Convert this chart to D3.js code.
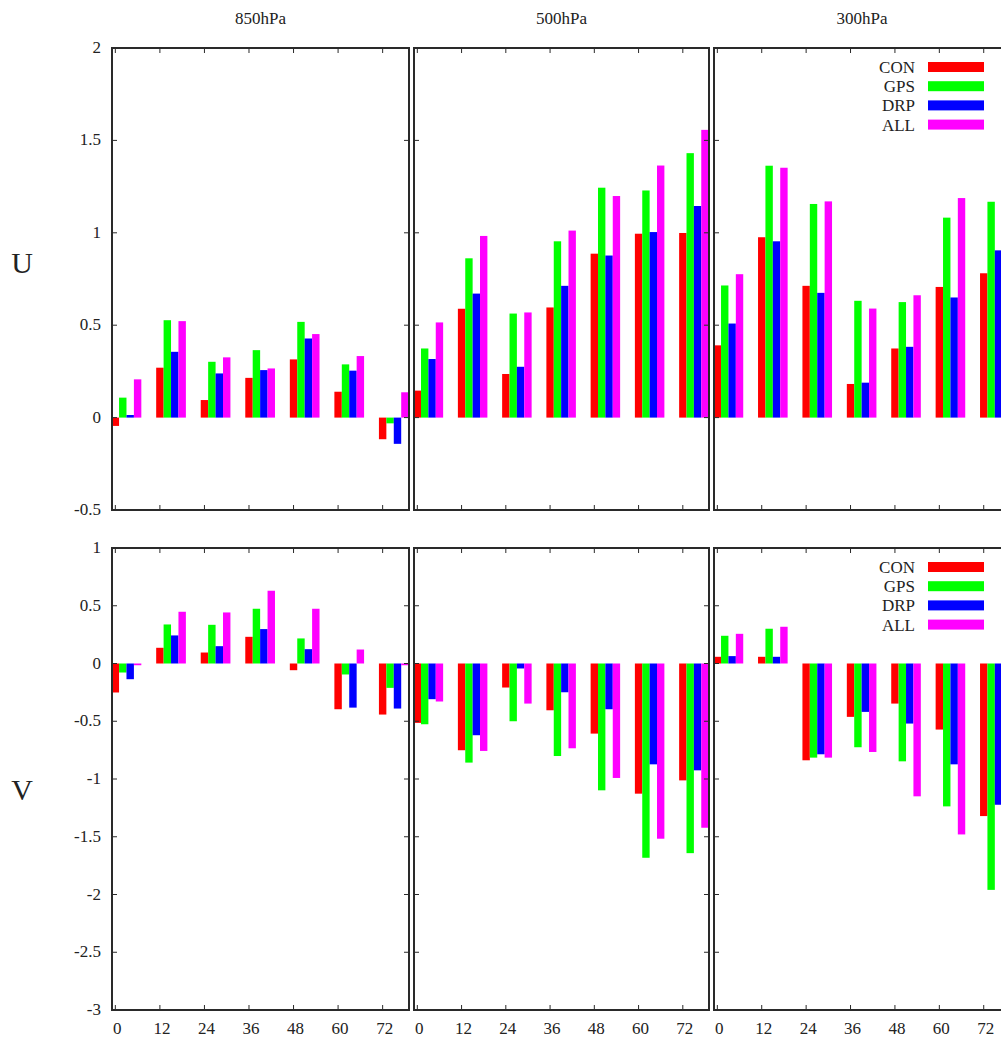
<!DOCTYPE html>
<html><head><meta charset="utf-8">
<script src="https://cdn.jsdelivr.net/npm/d3@7"></script>
<style>
html,body{margin:0;padding:0;background:#fff;}
svg{display:block;}
text{font-family:"Liberation Serif","DejaVu Serif",serif;fill:#222;}
</style></head>
<body>
<script>
const leadTimes = [0, 12, 24, 36, 48, 60, 72];
const seriesNames = ["CON", "GPS", "DRP", "ALL"];
const seriesColors = ["#ff0000", "#00ff00", "#0000ff", "#ff00ff"];
const levels = ["850hPa", "500hPa", "300hPa"];
const rowLabels = ["U", "V"];
const uTicks = [-0.5, 0, 0.5, 1, 1.5, 2];
const vTicks = [-3, -2.5, -2, -1.5, -1, -0.5, 0, 0.5, 1];

// rows: CON, GPS, DRP, ALL
const u850 = [
  [-0.045, 0.270, 0.095, 0.215, 0.315, 0.140, -0.117],
  [0.108, 0.527, 0.302, 0.365, 0.518, 0.288, -0.031],
  [0.014, 0.356, 0.239, 0.257, 0.428, 0.254, -0.142],
  [0.207, 0.522, 0.326, 0.266, 0.452, 0.333, 0.137]
];
const u500 = [
  [0.146, 0.589, 0.236, 0.596, 0.887, 0.995, 0.999],
  [0.374, 0.862, 0.563, 0.954, 1.244, 1.229, 1.431],
  [0.317, 0.671, 0.275, 0.713, 0.877, 1.004, 1.145],
  [0.515, 0.983, 0.569, 1.012, 1.199, 1.364, 1.557]
];
const u300 = [
  [0.391, 0.976, 0.713, 0.182, 0.374, 0.707, 0.781],
  [0.715, 1.363, 1.156, 0.632, 0.625, 1.082, 1.168],
  [0.509, 0.954, 0.675, 0.189, 0.383, 0.650, 0.905],
  [0.776, 1.352, 1.170, 0.590, 0.662, 1.188, 1.244]
];
const v850 = [
  [-0.251, 0.136, 0.095, 0.231, -0.058, -0.396, -0.442],
  [-0.078, 0.338, 0.335, 0.474, 0.217, -0.095, -0.211],
  [-0.136, 0.243, 0.150, 0.298, 0.124, -0.382, -0.390],
  [-0.015, 0.448, 0.442, 0.630, 0.474, 0.121, -0.015]
];
const v500 = [
  [-0.514, -0.751, -0.208, -0.405, -0.607, -1.127, -1.012],
  [-0.526, -0.858, -0.500, -0.801, -1.098, -1.682, -1.642],
  [-0.309, -0.621, -0.043, -0.249, -0.396, -0.873, -0.925],
  [-0.329, -0.757, -0.347, -0.734, -0.991, -1.517, -1.422]
];
const v300 = [
  [0.058, 0.058, -0.838, -0.462, -0.347, -0.572, -1.321],
  [0.240, 0.301, -0.815, -0.725, -0.847, -1.237, -1.960],
  [0.064, 0.058, -0.786, -0.419, -0.520, -0.873, -1.223],
  [0.257, 0.318, -0.815, -0.766, -1.150, -1.480, -1.994]
];

const W = 1001, H = 1041;
const svg = d3.select("body").append("svg").attr("width", W).attr("height", H);

const panelX = [[112, 409], [414, 709], [714, 1010]];
const rows = [
  {top: 48, bottom: 510, domain: [-0.5, 2], ticks: uTicks, data: [u850, u500, u300], label: rowLabels[0], labelY: 273, xLabels: false},
  {top: 548, bottom: 1010, domain: [-3, 1], ticks: vTicks, data: [v850, v500, v300], label: rowLabels[1], labelY: 800, xLabels: true}
];
const frameColor = "#2a2a2a";
const tickLen = 5;
let clipId = 0;

rows.forEach((row, ri) => {
  const y = d3.scaleLinear().domain(row.domain).range([row.bottom, row.top]);
  svg.append("text").attr("x", 22).attr("y", row.labelY).attr("text-anchor", "middle")
    .attr("font-size", 30).text(row.label);

  panelX.forEach((px, pi) => {
    const x = d3.scaleLinear().domain([-0.9, 79.1]).range(px);
    const g = svg.append("g");
    const id = "clip" + (clipId++);
    svg.append("clipPath").attr("id", id).append("rect")
      .attr("x", px[0]).attr("y", row.top).attr("width", px[1] - px[0]).attr("height", row.bottom - row.top);

    // bars
    const bars = g.append("g").attr("clip-path", `url(#${id})`);
    const vals = row.data[pi];
    seriesNames.forEach((s, si) => {
      bars.selectAll(null).data(leadTimes.map((t, ti) => ({t, v: vals[si][ti]})))
        .enter().append("rect")
        .attr("x", d => x(d.t + 2 * si - 1))
        .attr("width", d => x(d.t + 2 * si + 1) - x(d.t + 2 * si - 1))
        .attr("y", d => y(Math.max(0, d.v)))
        .attr("height", d => Math.abs(y(d.v) - y(0)))
        .attr("fill", seriesColors[si]);
    });

    // ticks
    const tk = g.append("g").attr("stroke", frameColor).attr("stroke-width", 1);
    leadTimes.forEach(t => {
      tk.append("line").attr("x1", x(t)).attr("x2", x(t)).attr("y1", row.bottom).attr("y2", row.bottom - tickLen);
      tk.append("line").attr("x1", x(t)).attr("x2", x(t)).attr("y1", row.top).attr("y2", row.top + tickLen);
    });
    row.ticks.forEach(v => {
      tk.append("line").attr("x1", px[0]).attr("x2", px[0] + tickLen).attr("y1", y(v)).attr("y2", y(v));
      tk.append("line").attr("x1", px[1]).attr("x2", px[1] - tickLen).attr("y1", y(v)).attr("y2", y(v));
    });

    // frame
    g.append("rect").attr("x", px[0]).attr("y", row.top).attr("width", px[1] - px[0]).attr("height", row.bottom - row.top)
      .attr("fill", "none").attr("stroke", frameColor).attr("stroke-width", 2);

    // y tick labels on first panel
    if (pi === 0) {
      row.ticks.forEach(v => {
        svg.append("text").attr("x", px[0] - 11).attr("y", y(v) + 5).attr("text-anchor", "end")
          .attr("font-size", 17).text(String(v));
      });
    }
    // x tick labels on bottom row
    if (row.xLabels) {
      leadTimes.forEach(t => {
        svg.append("text").attr("x", x(t) + 2).attr("y", 1034).attr("text-anchor", "middle")
          .attr("font-size", 17).text(String(t));
      });
    }
    // titles
    if (ri === 0) {
      svg.append("text").attr("x", (px[0] + px[1]) / 2).attr("y", 24).attr("text-anchor", "middle")
        .attr("font-size", 17).text(levels[pi]);
    }
    // legend on last panel
    if (pi === 2) {
      const lg = svg.append("g");
      seriesNames.forEach((s, si) => {
        const yy = row.top + 14 + si * 19.2;
        lg.append("rect").attr("x", 928).attr("y", yy).attr("width", 56).attr("height", 10).attr("fill", seriesColors[si]);
        lg.append("text").attr("x", 915).attr("y", yy + 11).attr("text-anchor", "end").attr("font-size", 17).text(s);
      });
    }
  });
});
</script>
</body></html>
